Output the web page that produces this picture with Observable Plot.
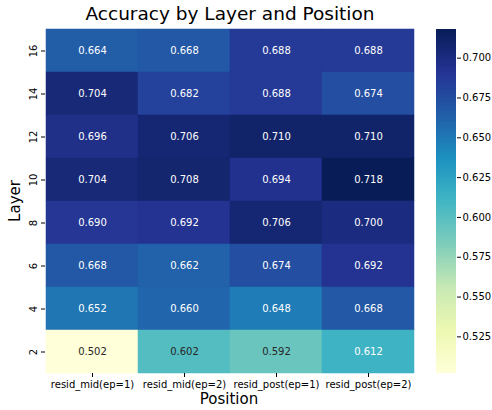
<!DOCTYPE html>
<html><head><meta charset="utf-8">
<script src="https://cdn.jsdelivr.net/npm/d3@7"></script>
<script src="https://cdn.jsdelivr.net/npm/@observablehq/plot@0.6"></script>
<style>
body{margin:0;background:#fff;font-family:"DejaVu Sans",sans-serif;}
#fig{position:relative;width:492px;height:410px;overflow:hidden;}
#fig svg{position:absolute;top:0;font-family:"DejaVu Sans",sans-serif;}
.lbl{position:absolute;color:#000;white-space:nowrap;font-family:"DejaVu Sans",sans-serif;line-height:1;}
</style></head><body><div id="fig"></div>
<script>
// ---- data ----
const positions = ["resid_mid(ep=1)", "resid_mid(ep=2)", "resid_post(ep=1)", "resid_post(ep=2)"];
const layers = [16, 14, 12, 10, 8, 6, 4, 2];
const accMid1  = [0.664, 0.704, 0.696, 0.704, 0.690, 0.668, 0.652, 0.502];
const accMid2  = [0.668, 0.682, 0.706, 0.708, 0.692, 0.662, 0.660, 0.602];
const accPost1 = [0.688, 0.688, 0.710, 0.694, 0.706, 0.674, 0.648, 0.592];
const accPost2 = [0.688, 0.674, 0.710, 0.718, 0.700, 0.692, 0.668, 0.612];
const colorbarTicks = [0.525, 0.550, 0.575, 0.600, 0.625, 0.650, 0.675, 0.700];
const title = "Accuracy by Layer and Position";

const series = [accMid1, accMid2, accPost1, accPost2];
const table = [];
positions.forEach((p, j) => layers.forEach((l, i) => table.push({position: p, layer: String(l), value: series[j][i]})));
const vmin = d3.min(table, d => d.value), vmax = d3.max(table, d => d.value);

const ylgnbu = ["#ffffd9","#edf8b1","#c7e9b4","#7fcdbb","#41b6c4","#1d91c0","#225ea8","#253494","#081d58"];
const colorOpts = {type: "linear", domain: ylgnbu.map((_, i) => vmin + (vmax - vmin) * i / (ylgnbu.length - 1)), range: ylgnbu, interpolate: "rgb", clamp: true};
const cscale = d3.scaleLinear().domain(colorOpts.domain).range(ylgnbu).interpolate(d3.interpolateRgb).clamp(true);
function lum(c) {
  const r = d3.rgb(c);
  const f = v => { v /= 255; return v <= 0.03928 ? v / 12.92 : Math.pow((v + 0.055) / 1.055, 2.4); };
  return 0.2126 * f(r.r) + 0.7152 * f(r.g) + 0.0722 * f(r.b);
}
const isLight = d => lum(cscale(d.value)) > 0.408;

const fig = document.getElementById("fig");

const main = Plot.plot({
  width: 430, height: 410,
  marginLeft: 45, marginRight: 16, marginTop: 29, marginBottom: 37,
  style: {fontSize: "10px", fontFamily: "DejaVu Sans, sans-serif", color: "#000", background: "transparent"},
  x: {domain: positions, padding: 0, label: null},
  y: {domain: layers.map(String), padding: 0, label: null},
  color: colorOpts,
  marks: [
    Plot.cell(table, {x: "position", y: "layer", fill: "value", stroke: "value", strokeWidth: 0.5, inset: 0}),
    Plot.text(table.filter(d => !isLight(d)), {x: "position", y: "layer", text: d => d.value.toFixed(3), fill: "white", fontSize: 10}),
    Plot.text(table.filter(isLight), {x: "position", y: "layer", text: d => d.value.toFixed(3), fill: "#262626", fontSize: 10}),
    Plot.axisX({tickSize: 4, tickPadding: 3, label: null, fontSize: 10, stroke: "#000"}),
    Plot.axisY({tickSize: 4, tickPadding: 5, tickRotate: -90, label: null, fontSize: 10, stroke: "#000"})
  ]
});
main.style.left = "0px";
fig.appendChild(main);

const N = 300;
const bar = d3.range(N).map(i => vmin + (vmax - vmin) * i / N);
const step = (vmax - vmin) / N;
const cb = Plot.plot({
  width: 72, height: 410,
  marginLeft: 16, marginRight: 36, marginTop: 29, marginBottom: 37,
  style: {fontSize: "10px", fontFamily: "DejaVu Sans, sans-serif", color: "#000", background: "transparent"},
  x: {domain: [0, 1], axis: null},
  y: {domain: [vmin, vmax], axis: null},
  color: colorOpts,
  marks: [
    Plot.rect(bar, {x1: 0, x2: 1, y1: d => d, y2: d => Math.min(vmax, d + step * 2), fill: d => d + step / 2}),
    Plot.axisY({anchor: "right", ticks: colorbarTicks, tickFormat: d3.format(".3f"), tickSize: 4, tickPadding: 2, label: null, fontSize: 10})
  ]
});
cb.style.left = "420px";
fig.appendChild(cb);

function addLabel(text, css) {
  const d = document.createElement("div");
  d.className = "lbl"; d.textContent = text;
  Object.assign(d.style, css);
  fig.appendChild(d);
}
addLabel(title, {left: "230px", top: "5px", fontSize: "18.5px", transform: "translateX(-50%)"});
addLabel("Position", {left: "229px", top: "392px", fontSize: "15px", transform: "translateX(-50%)"});
addLabel("Layer", {left: "15px", top: "201px", fontSize: "15px", transform: "translate(-50%,-50%) rotate(-90deg)"});
</script></body></html>
